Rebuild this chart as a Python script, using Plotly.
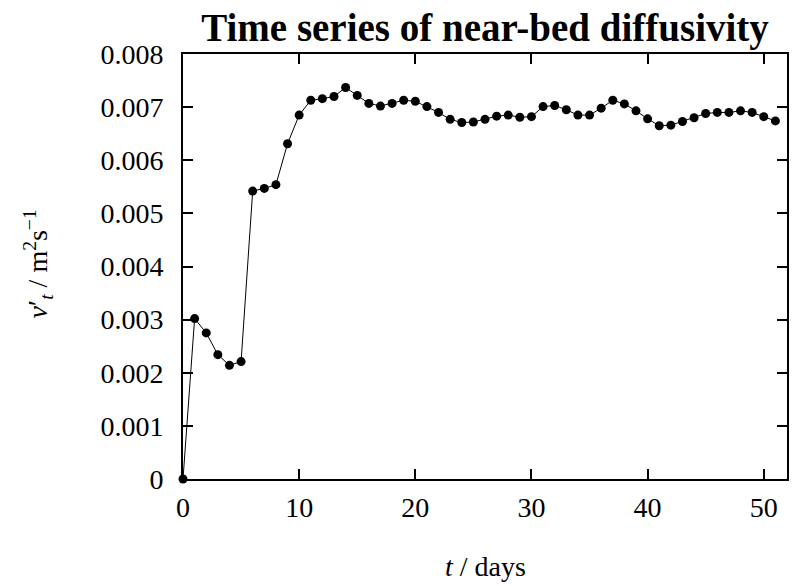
import plotly.graph_objects as go

days = list(range(52))
nu_t = [0.0, 0.00302, 0.00275, 0.00234, 0.00214, 0.00221, 0.00542, 0.00547, 0.00554, 0.00631,
        0.00685, 0.00713, 0.00716, 0.00720, 0.00737, 0.00722, 0.00707, 0.00702, 0.00707, 0.00713,
        0.00711, 0.00701, 0.00690, 0.00677, 0.00671, 0.00672, 0.00677, 0.00683, 0.00685, 0.00681,
        0.00682, 0.00701, 0.00703, 0.00695, 0.00685, 0.00685, 0.00698, 0.00713, 0.00706, 0.00693,
        0.00678, 0.00665, 0.00666, 0.00673, 0.00680, 0.00688, 0.00690, 0.00690, 0.00693, 0.00690,
        0.00682, 0.00674]

x_ticks = [0, 10, 20, 30, 40, 50]
y_ticks = [0, 0.001, 0.002, 0.003, 0.004, 0.005, 0.006, 0.007, 0.008]
y_tick_labels = ["0", "0.001", "0.002", "0.003", "0.004", "0.005", "0.006", "0.007", "0.008"]

FONT = "Liberation Serif"

fig = go.Figure()
fig.add_trace(go.Scatter(
    x=days, y=nu_t, mode="lines+markers",
    line=dict(color="black", width=1),
    marker=dict(color="black", size=9),
    cliponaxis=False, showlegend=False,
))

axis_common = dict(
    showline=True, linecolor="black", linewidth=2, mirror="ticks",
    ticks="inside", ticklen=10, tickwidth=1.5, tickcolor="black",
    showgrid=False, zeroline=False,
    tickfont=dict(family=FONT, size=28, color="black"),
)

fig.update_layout(
    width=800, height=586,
    paper_bgcolor="white", plot_bgcolor="white",
    margin=dict(l=183, r=11, t=54, b=107),
    title=dict(text="<b>Time series of near-bed diffusivity</b>",
               font=dict(family=FONT, size=39, color="black"),
               x=0.5, xref="paper", y=0.953, yref="container", xanchor="center", yanchor="middle"),
    xaxis=dict(range=[0, 52], tickvals=x_ticks, ticklabelstandoff=2, **axis_common),
    yaxis=dict(range=[0, 0.008], tickvals=y_ticks, ticktext=y_tick_labels,
               ticklabelstandoff=12, **axis_common),
    annotations=[
        dict(text="<i>t</i> / days", xref="paper", yref="paper", x=0.5, y=-0.205,
             xanchor="center", yanchor="middle", showarrow=False,
             font=dict(family=FONT, size=28, color="black")),
        dict(text="<i>ν</i>′<sub><i>t</i></sub> / m<sup>2</sup>s<sup>−1</sup>",
             xref="paper", yref="paper", x=-0.24, y=0.505, textangle=-90,
             xanchor="center", yanchor="middle", showarrow=False,
             font=dict(family=FONT, size=28, color="black")),
    ],
)

fig.write_html("out.html")
